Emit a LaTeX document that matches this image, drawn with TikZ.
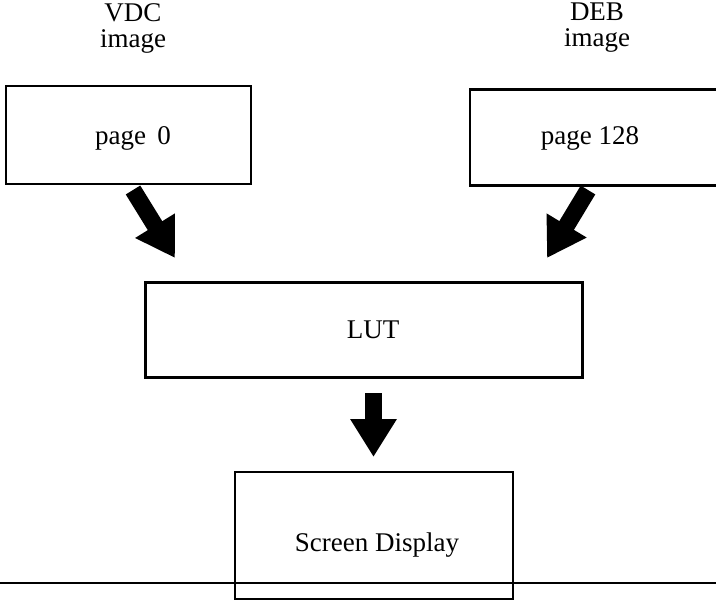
\documentclass[tikz,border=0pt]{standalone}
\usepackage{fontspec}
\setmainfont{Liberation Serif}
\usetikzlibrary{arrows.meta}
\begin{document}
\begin{tikzpicture}[x=1pt,y=-1pt,
  box/.style={draw=black,line width=2.6pt,rectangle,inner sep=0pt},
  txt/.style={font=\fontsize{27}{30}\selectfont,inner sep=0pt},
  lbl/.style={font=\fontsize{27}{26}\selectfont,align=center,inner sep=0pt},
  blk/.style={line width=17pt,-{Triangle[length=38pt,width=44pt]}}]
\clip (0,0) rectangle (716,600);
\fill[white] (0,0) rectangle (716,600);
% labels
\node[lbl] (vdcl) at (133,28) {VDC\\image};
\node[lbl] (debl) at (597,28) {DEB\\image};
% boxes
\node[box,minimum width=245pt,minimum height=98pt] (vdc) at (128.5,135) {};
\node[txt] (vdct) at (133,138) {page\, 0};
\node[box,minimum width=270pt,minimum height=96pt] (deb) at (605,137.5) {};
\node[txt] (debt) at (590,138) {page 128};
\node[box,minimum width=437pt,minimum height=95pt] (lut) at (364,330) {};
\node[txt] (lutt) at (373,330) {LUT};
\node[box,minimum width=278pt,minimum height=127pt] (scr) at (374,535.5) {};
\node[txt] (scrt) at (377,545) {Screen Display};
% arrow end points
\coordinate (a1s) at (133,190);
\coordinate (a1e) at (175,258);
\coordinate (a2s) at (588,190);
\coordinate (a2e) at (547,258);
\coordinate (a3s) at (373.5,393);
\coordinate (a3e) at (373.5,457);
\draw[blk] (a1s) -- (a1e);
\draw[blk] (a2s) -- (a2e);
\draw[blk] (a3s) -- (a3e);
% baseline rule
\coordinate (rl) at (0,583);
\coordinate (rr) at (716,583);
\draw[line width=1.2pt] (rl) -- (rr);
\end{tikzpicture}
\end{document}
